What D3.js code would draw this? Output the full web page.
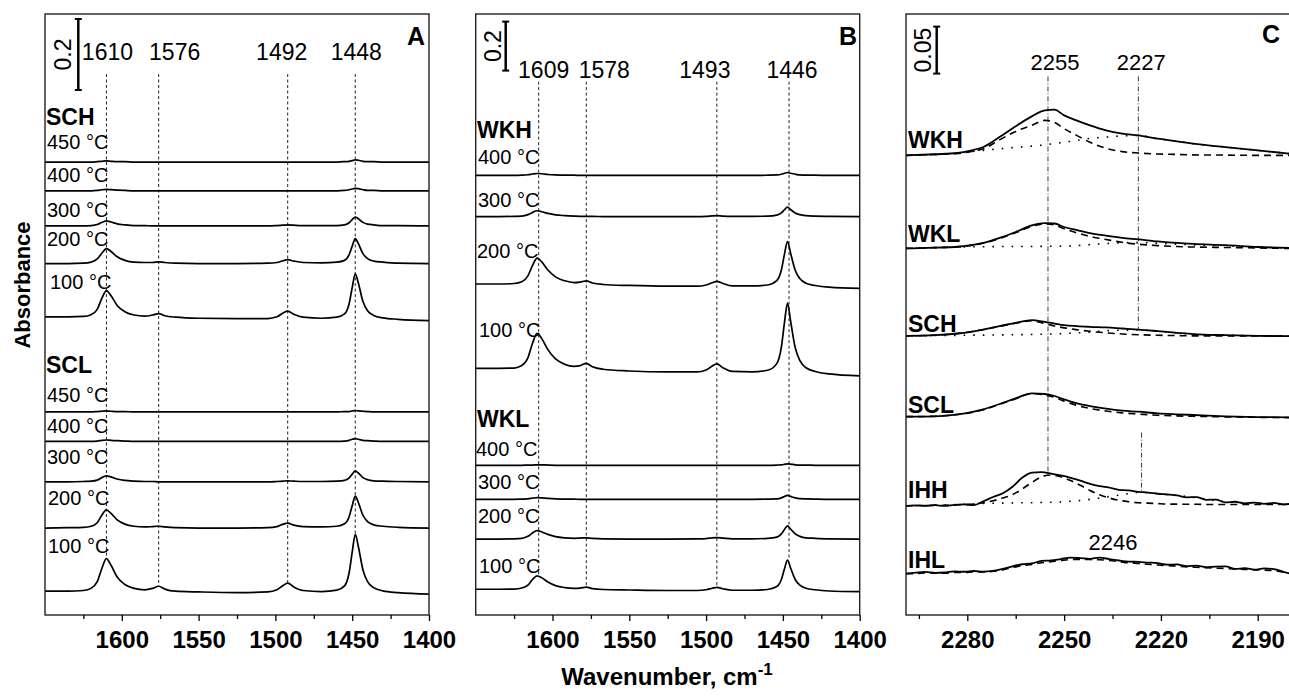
<!DOCTYPE html>
<html>
<head>
<meta charset="utf-8">
<title>IR spectra of adsorbed species</title>
<script src="https://cdn.jsdelivr.net/npm/d3@7/dist/d3.min.js"></script>
<style>
  body { margin: 0; background: #fff; }
  svg text { font-family: "Liberation Sans", Arial, Helvetica, sans-serif; fill: #000; }
</style>
</head>
<body>
<svg id="chart" width="1289" height="697"></svg>
<script>
'use strict';

// ---------- data: panel A (SCH / SCL), absorbance above own baseline ----------
var gridA = [1650,1635,1625,1620,1616,1613,1610,1607,1603,1598,
             1592,1585,1580,1576,1572,1565,1550,1525,1505,1499,
             1495,1492,1488,1482,1470,1460,1455,1452,1450,1448,
             1446,1443,1440,1436,1430,1420,1400];
var sch450 = [0,0,0,0,0.001,0.002,0.003,0.002,0.001,0.001, 0,0,0,0,0,0,0,0,0,0, 0,0,0,0,0,0,0.001,0.002,0.004,0.006, 0.005,0.002,0.001,0.001,0,0,0];
var sch400 = [0,0,0,0,0.001,0.003,0.004,0.003,0.002,0.001, 0,0,0,0,0,0,0,0,0,0, 0,0,0,0,0,0,0.001,0.003,0.005,0.007, 0.006,0.003,0.001,0.001,0,0,0];
var sch300 = [0,0,0,0.001,0.004,0.010,0.014,0.011,0.006,0.003, 0.001,0.001,0,0,0,0,0,0,0,0.001, 0.002,0.003,0.002,0.001,0.001,0.001,0.003,0.009,0.018,0.025, 0.020,0.010,0.005,0.003,0.001,0.001,0];
var sch200 = [0,0,0.001,0.004,0.013,0.029,0.042,0.034,0.019,0.009, 0.004,0.003,0.003,0.005,0.003,0.001,0,0,0.001,0.003, 0.008,0.011,0.007,0.003,0.002,0.004,0.009,0.025,0.049,0.070, 0.056,0.028,0.014,0.007,0.004,0.001,0];
var sch100 = [0.011,0.011,0.012,0.017,0.032,0.063,0.085,0.070,0.043,0.025, 0.016,0.013,0.016,0.020,0.014,0.010,0.007,0.006,0.006,0.011, 0.022,0.027,0.018,0.010,0.007,0.010,0.019,0.048,0.093,0.132, 0.106,0.054,0.028,0.015,0.008,0.004,0];
var scl450 = [0,0,0,0,0.001,0.002,0.003,0.002,0.001,0.001, 0,0,0,0,0,0,0,0,0,0, 0,0,0,0,0,0,0.001,0.001,0.003,0.004, 0.003,0.002,0.001,0,0,0,0];
var scl400 = [0,0,0,0,0.001,0.003,0.004,0.003,0.002,0.001, 0,0,0,0,0,0,0,0,0,0, 0,0,0,0,0,0,0.001,0.003,0.006,0.008, 0.006,0.003,0.002,0.001,0,0,0];
var scl300 = [0,0,0.001,0.002,0.005,0.012,0.017,0.014,0.008,0.004, 0.002,0.001,0.001,0,0,0,0,0,0,0.001, 0.002,0.003,0.002,0.001,0.001,0.002,0.004,0.011,0.022,0.031, 0.025,0.012,0.006,0.003,0.002,0.001,0];
var scl200 = [0,0.001,0.002,0.005,0.015,0.036,0.051,0.041,0.023,0.011, 0.005,0.003,0.004,0.005,0.003,0.001,0,0,0.001,0.004, 0.011,0.014,0.008,0.004,0.003,0.005,0.012,0.032,0.063,0.090, 0.072,0.036,0.018,0.009,0.005,0.002,0];
var scl100 = [0.008,0.008,0.010,0.016,0.035,0.072,0.100,0.081,0.048,0.027, 0.016,0.012,0.016,0.022,0.014,0.008,0.006,0.004,0.006,0.012, 0.024,0.031,0.020,0.010,0.007,0.011,0.023,0.060,0.118,0.168, 0.134,0.068,0.035,0.018,0.009,0.004,0];
var offsetsA = [1.276,1.195,1.096,0.990,0.829, 0.572,0.489,0.375,0.245,0.059];
var samplesA = ['SCH','SCL'];
var tempsA = ['450 °C','400 °C','300 °C','200 °C','100 °C','450 °C','400 °C','300 °C','200 °C','100 °C'];
var peaksA = [1610,1576,1492,1448];

// ---------- data: panel B (WKH / WKL) ----------
var gridB = [1650,1635,1625,1620,1616,1613,1610,1607,1603,1598,
             1592,1586,1582,1578,1574,1567,1550,1525,1506,1500,
             1496,1493,1489,1483,1470,1460,1454,1451,1449,1447,
             1445,1442,1439,1435,1429,1420,1400];
var wkh400 = [0,0,0,0.001,0.003,0.006,0.008,0.007,0.004,0.002, 0.001,0.001,0,0,0,0,0,0,0,0, 0,0,0,0,0,0.001,0.002,0.005,0.009,0.012, 0.009,0.005,0.002,0.001,0.001,0,0];
var wkh300 = [0,0,0.001,0.002,0.008,0.017,0.024,0.020,0.013,0.007, 0.004,0.002,0.001,0.001,0.001,0,0,0,0,0.001, 0.003,0.004,0.002,0.001,0.001,0.002,0.006,0.015,0.028,0.039, 0.029,0.015,0.008,0.004,0.002,0.001,0];
var wkh200 = [0.018,0.018,0.020,0.027,0.051,0.094,0.124,0.108,0.075,0.047, 0.031,0.024,0.026,0.031,0.022,0.016,0.012,0.009,0.009,0.014, 0.023,0.029,0.020,0.010,0.010,0.014,0.032,0.075,0.139,0.191, 0.144,0.074,0.040,0.021,0.012,0.005,0];
var wkh100 = [0.031,0.031,0.032,0.042,0.074,0.133,0.174,0.152,0.107,0.069, 0.047,0.039,0.042,0.051,0.037,0.027,0.020,0.016,0.016,0.024, 0.040,0.049,0.033,0.018,0.016,0.023,0.050,0.117,0.216,0.297, 0.224,0.116,0.063,0.033,0.018,0.008,0];
var wkl400 = [0,0,0,0,0.001,0.001,0.002,0.002,0.001,0, 0,0,0,0,0,0,0,0,0,0, 0,0,0,0,0,0,0.001,0.002,0.004,0.006, 0.005,0.002,0.001,0.001,0,0,0];
var wkl300 = [0,0,0,0.001,0.002,0.005,0.007,0.006,0.004,0.002, 0.001,0.001,0,0,0,0,0,0,0,0, 0,0,0,0,0,0.001,0.002,0.006,0.012,0.016, 0.012,0.006,0.003,0.002,0.001,0,0];
var wkl200 = [0,0,0.001,0.003,0.011,0.025,0.034,0.029,0.019,0.010, 0.005,0.003,0.004,0.005,0.003,0.001,0,0,0.001,0.002, 0.005,0.006,0.004,0.001,0.001,0.003,0.008,0.021,0.039,0.054, 0.041,0.021,0.011,0.005,0.003,0.001,0];
var wkl100 = [0.010,0.010,0.011,0.015,0.027,0.050,0.065,0.057,0.040,0.025, 0.017,0.014,0.015,0.019,0.013,0.009,0.007,0.005,0.005,0.008, 0.014,0.018,0.012,0.006,0.006,0.009,0.021,0.050,0.093,0.129, 0.097,0.050,0.027,0.014,0.008,0.003,0];
var offsetsB = [1.794,1.626,1.333,0.976, 0.611,0.472,0.310,0.095];
var samplesB = ['WKH','WKL'];
var tempsB = ['400 °C','300 °C','200 °C','100 °C','400 °C','300 °C','200 °C','100 °C'];
var peaksB = [1609,1578,1493,1446];

// ---------- data: panel C (nitrile region), measured / main band / side band ----------
var gridC = [2299,2290,2283,2279,2275,2270,2265,2260,2256,2253,
             2250,2246,2242,2237,2232,2227,2221,2215,2210,2200,
             2190,2180];
var gridIH = [2299,2296,2293,2290,2287,2284,2281,2278,2275,2272,
              2269,2266,2263,2260,2257,2254,2251,2248,2245,2242,
              2239,2236,2233,2230,2227,2224,2221,2218,2215,2212,
              2209,2206,2203,2200,2197,2194,2191,2188,2185,2182,
              2180];
var wkhMeas = [0,0.0012,0.0025,0.005,0.0089,0.0195,0.031,0.0415,0.0479,0.0486, 0.0426,0.037,0.0319,0.0266,0.0232,0.0212,0.0177,0.015,0.0124,0.0088, 0.0053,0.0018];
var wkhMain = [0,0.001,0.002,0.004,0.007,0.0165,0.0255,0.032,0.0372,0.035, 0.0284,0.021,0.014,0.0075,0.004,0.0025,0.0015,0.001,0.0005,0.0003, 0,0];
var wkhSide = [0,0.001,0.0025,0.004,0.0053,0.007,0.0085,0.0098,0.0112,0.0125, 0.014,0.016,0.018,0.0195,0.0207,0.0212,0.0177,0.015,0.0124,0.0088, 0.0053,0.0018];
var wklMeas = [0,0.0008,0.0018,0.0035,0.006,0.0112,0.0175,0.0245,0.027,0.0265, 0.0228,0.0195,0.0162,0.0135,0.0112,0.0096,0.0075,0.0058,0.0048,0.0035, 0.0015,0.0005];
var wklMain = [0,0.0008,0.0016,0.003,0.0055,0.0105,0.0168,0.0235,0.026,0.025, 0.021,0.0165,0.0128,0.0095,0.0065,0.0045,0.003,0.002,0.0015,0.001, 0.0005,0];
var wklSide = [0,0.0008,0.0015,0.0017,0.0018,0.002,0.002,0.0021,0.0022,0.0023, 0.0025,0.003,0.004,0.0052,0.006,0.0062,0.0055,0.0045,0.0038,0.003, 0.0015,0.0005];
var schMeas = [0,0.0007,0.0025,0.0043,0.0067,0.0103,0.0138,0.0167,0.0149,0.0131, 0.0113,0.0103,0.0096,0.0089,0.0078,0.0067,0.005,0.0032,0.0018,0.0007, 0,-0.0004];
var schMain = [0,0.0007,0.0025,0.0043,0.0067,0.010,0.0135,0.016,0.013,0.0105, 0.0085,0.0065,0.0048,0.0032,0.002,0.0012,0.0006,0.0003,0,0, 0,-0.0004];
var schSide = [0,0.0003,0.0005,0.0007,0.0008,0.001,0.0012,0.0015,0.0018,0.002, 0.0025,0.0032,0.004,0.0055,0.006,0.0062,0.005,0.0032,0.0018,0.0007, 0,-0.0004];
var sclMeas = [0,0.0004,0.0025,0.0046,0.0078,0.0135,0.0195,0.0248,0.0241,0.022, 0.0184,0.0142,0.0113,0.0085,0.0064,0.0053,0.0035,0.0025,0.0018,0.0004, -0.0004,-0.0007];
var sclMain = [0,0.0004,0.0023,0.0043,0.0075,0.013,0.019,0.0245,0.023,0.0205, 0.0165,0.012,0.0088,0.006,0.004,0.0028,0.0015,0.0008,0.0004,-0.0002, -0.0007,-0.001];
var ihhMeas = [0,0.0006,0.0002,0.0008,0,0.0012,0.0016,0.001,0.005,0.0095, 0.0135,0.0205,0.030,0.0355,0.036,0.0345,0.0325,0.030,0.027,0.0235, 0.021,0.0195,0.0172,0.0165,0.015,0.0143,0.013,0.0122,0.0112,0.0092, 0.0095,0.0065,0.0068,0.0038,0.0045,0.0028,0.0036,0.0022,0.0032,0.0016, 0.0022];
var ihhMain = [0,0.0005,0.0005,0.0008,0.0008,0.0012,0.0015,0.002,0.0035,0.0055, 0.0085,0.012,0.018,0.025,0.031,0.033,0.031,0.027,0.022,0.0165, 0.012,0.0085,0.006,0.0045,0.0035,0.003,0.0025,0.002,0.002,0.0018, 0.0018,0.0016,0.0016,0.0015,0.0015,0.0015,0.0015,0.0015,0.0015,0.0015, 0.0015];
var ihhSide = [0,0.0008,0.0015,0.002,0.0028,0.003,0.0033,0.0035,0.0038,0.004, 0.0045,0.0055,0.007,0.0095,0.012,0.0145,0.013,0.0112,0.0092,0.0045, 0.003,0.0022];
var ihlMeas = [0,0.001,0.0018,0.0008,0.0012,0.0025,0.002,0.0028,0.0022,0.003, 0.005,0.0078,0.010,0.0108,0.0135,0.014,0.0155,0.017,0.0165,0.0158, 0.017,0.0155,0.014,0.0128,0.0125,0.0118,0.0112,0.0095,0.0098,0.008, 0.0085,0.0068,0.0075,0.0078,0.005,0.0058,0.0042,0.0055,0.0048,0.002, 0];
var ihlMain = [0,0,0.0008,0.0005,0.0005,0.0012,0.0012,0.0018,0.0018,0.0025, 0.004,0.0065,0.0085,0.0098,0.0115,0.0128,0.014,0.015,0.0152,0.015, 0.0148,0.014,0.0128,0.0115,0.0108,0.010,0.0092,0.0085,0.008,0.0072, 0.0068,0.0062,0.0058,0.0055,0.0048,0.0045,0.004,0.0038,0.0032,0.0015, 0.0005];
var samplesC = ['WKH','WKL','SCH','SCL','IHH','IHL'];
var offsetsC = [0.489,0.390,0.297,0.211,0.116,0.044];
var peaksC = [2255,2227];

// ---------- layout ----------
var svg = d3.select('#chart');
var plotTop = 14, plotBottom = 615;
var black = '#000';
var fontFamily = '"Liberation Sans", Arial, Helvetica, sans-serif';

function nearest(grid, vals, wn) {
  var i = d3.minIndex(grid, function(g){ return Math.abs(g - wn); });
  return vals[i];
}

function stackPath(g, x, y, grid, vals, off) {
  var line = d3.line()
    .x(function(d, i){ return x(grid[i]); })
    .y(function(d){ return y(d + off); })
    .curve(d3.curveMonotoneX);
  return g.append('path').datum(vals)
    .attr('d', line)
    .attr('fill', 'none')
    .attr('stroke', black)
    .attr('stroke-width', 1.7)
    .attr('stroke-linejoin', 'round');
}

function frame(g, x) {
  var x0 = x.range()[0], x1 = x.range()[1];
  g.append('rect')
    .attr('x', x0).attr('y', plotTop)
    .attr('width', x1 - x0).attr('height', plotBottom - plotTop)
    .attr('fill', 'none').attr('stroke', '#222').attr('stroke-width', 1.4);
}

function axis(g, x, major, minor) {
  var mi = g.append('g')
    .attr('transform', 'translate(0,' + plotBottom + ')')
    .call(d3.axisBottom(x).tickValues(minor).tickSize(4).tickFormat(''));
  mi.select('.domain').remove();
  mi.selectAll('line').attr('stroke-width', 1.3);

  var ax = g.append('g')
    .attr('transform', 'translate(0,' + plotBottom + ')')
    .call(d3.axisBottom(x).tickValues(major).tickSize(6).tickPadding(10).tickFormat(d3.format('d')));
  // axis() writes its own font attrs, so override afterwards
  ax.attr('font-size', 24).attr('font-weight', 'bold').attr('font-family', fontFamily);
  ax.select('.domain').remove();
  ax.selectAll('line').attr('stroke-width', 1.3);
}

function scaleBar(g, xpos, y, v0, v1, label, labelX) {
  g.append('line').attr('x1', xpos).attr('x2', xpos)
    .attr('y1', y(v0)).attr('y2', y(v1))
    .attr('stroke', black).attr('stroke-width', 2.5);
  [v0, v1].forEach(function(v){
    g.append('line').attr('x1', xpos - 3.5).attr('x2', xpos + 3.5)
      .attr('y1', y(v)).attr('y2', y(v))
      .attr('stroke', black).attr('stroke-width', 2);
  });
  g.append('text')
    .attr('transform', 'translate(' + labelX + ',' + ((y(v0) + y(v1)) / 2) + ') rotate(-90)')
    .attr('text-anchor', 'middle').attr('dy', '0.36em')
    .attr('font-size', 23)
    .text(label);
}

function text(g, x, y, str, size, bold, anchor) {
  return g.append('text').attr('x', x).attr('y', y)
    .attr('font-size', size)
    .attr('font-weight', bold ? 'bold' : 'normal')
    .attr('text-anchor', anchor || 'start')
    .text(str);
}

// ---------- panel A ----------
var xA = d3.scaleLinear().domain([1650, 1400]).range([45, 429]);
var yA = d3.scaleLinear().domain([0, 1.693]).range([plotBottom, plotTop]);
var gA = svg.append('g');
var tracesA = [sch450, sch400, sch300, sch200, sch100, scl450, scl400, scl300, scl200, scl100];

peaksA.forEach(function(p){
  gA.append('line')
    .attr('x1', xA(p)).attr('x2', xA(p))
    .attr('y1', yA(1.524))
    .attr('y2', yA(offsetsA[9] + nearest(gridA, scl100, p)))
    .attr('stroke', '#222').attr('stroke-width', 1).attr('stroke-dasharray', '3,2.5');
});
tracesA.forEach(function(vals, i){ stackPath(gA, xA, yA, gridA, vals, offsetsA[i]); });
frame(gA, xA);
axis(gA, xA, [1600, 1550, 1500, 1450, 1400], [1625, 1575, 1525, 1475, 1425]);
scaleBar(gA, 78.3, yA, 1.479, 1.679, '0.2', 63);

var peakShiftA = [1, 16, -6, 1];
peaksA.forEach(function(p, i){ text(gA, xA(p) + peakShiftA[i], 60, String(p), 23, false, 'middle'); });
text(gA, 425, 45, 'A', 25, true, 'end');

var sampleYA = [125, 372.7];
samplesA.forEach(function(s, i){ text(gA, 46, sampleYA[i], s, 23, true); });
var tempXA = [47, 47, 47, 47, 50, 47, 47, 47, 48, 48];
var tempYA = [149, 181.7, 216.7, 246, 289.3, 402.3, 433.3, 464, 505, 553.3];
tempsA.forEach(function(t, i){ text(gA, tempXA[i], tempYA[i], t, 20, false); });

// ---------- panel B ----------
var xB = d3.scaleLinear().domain([1650, 1400]).range([475.7, 859.7]);
var yB = d3.scaleLinear().domain([0, 2.453]).range([plotBottom, plotTop]);
var gB = svg.append('g');
var tracesB = [wkh400, wkh300, wkh200, wkh100, wkl400, wkl300, wkl200, wkl100];

peaksB.forEach(function(p){
  gB.append('line')
    .attr('x1', xB(p)).attr('x2', xB(p))
    .attr('y1', yB(2.177))
    .attr('y2', yB(offsetsB[7] + nearest(gridB, wkl100, p)))
    .attr('stroke', '#222').attr('stroke-width', 1).attr('stroke-dasharray', '3,2.5');
});
tracesB.forEach(function(vals, i){ stackPath(gB, xB, yB, gridB, vals, offsetsB[i]); });
frame(gB, xB);
axis(gB, xB, [1600, 1550, 1500, 1450, 1400], [1625, 1575, 1525, 1475, 1425]);
scaleBar(gB, 505.7, yB, 2.222, 2.422, '0.2', 493);

var peakShiftB = [5, 18, -12, 3];
peaksB.forEach(function(p, i){ text(gB, xB(p) + peakShiftB[i], 78, String(p), 23, false, 'middle'); });
text(gB, 857, 45, 'B', 25, true, 'end');

var sampleYB = [138.3, 426.7];
samplesB.forEach(function(s, i){ text(gB, 477, sampleYB[i], s, 23, true); });
var tempXB = [478, 478, 477, 479, 476, 478, 478, 479];
var tempYB = [164, 206.7, 258.3, 337.3, 456, 489, 523.3, 573.3];
tempsB.forEach(function(t, i){ text(gB, tempXB[i], tempYB[i], t, 20, false); });

// ---------- panel C ----------
var xC = d3.scaleLinear().domain([2299, 2180]).range([906, 1290]);
var yC = d3.scaleLinear().domain([0, 0.6394]).range([plotBottom, plotTop]);
var gC = svg.append('g');

function dashDot(wn, vTop, vBottom) {
  gC.append('line')
    .attr('x1', xC(wn)).attr('x2', xC(wn))
    .attr('y1', yC(vTop)).attr('y2', yC(vBottom))
    .attr('stroke', '#222').attr('stroke-width', 0.9)
    .attr('stroke-dasharray', '5,2,1,2');
}
dashDot(peaksC[0], 0.573, offsetsC[4] + nearest(gridIH, ihhMeas, peaksC[0]));
dashDot(peaksC[1], 0.573, offsetsC[2] + nearest(gridC, schMeas, peaksC[1]));
dashDot(2226, 0.194, offsetsC[4] + nearest(gridIH, ihhMeas, 2226));

var setsC = [
  [gridC, wkhMeas, wkhMain, wkhSide],
  [gridC, wklMeas, wklMain, wklSide],
  [gridC, schMeas, schMain, schSide],
  [gridC, sclMeas, sclMain, null],
  [gridIH, ihhMeas, ihhMain, ihhSide],
  [gridIH, ihlMeas, ihlMain, null]
];
setsC.forEach(function(s, i){
  var off = offsetsC[i];
  if (s[3]) {
    stackPath(gC, xC, yC, gridC, s[3], off)
      .attr('stroke-width', 1.6).attr('stroke-dasharray', '1.6,8');
  }
  stackPath(gC, xC, yC, s[0], s[2], off)
    .attr('stroke-width', 1.6).attr('stroke-dasharray', '7,5');
  stackPath(gC, xC, yC, s[0], s[1], off).attr('stroke-width', 1.8);
});
frame(gC, xC);
axis(gC, xC, [2280, 2250, 2220, 2190], [2295, 2265, 2235, 2205]);
scaleBar(gC, 936.7, yC, 0.576, 0.626, '0.05', 923);

var peakShiftC = [7, 3];
peaksC.forEach(function(p, i){ text(gC, xC(p) + peakShiftC[i], 70, String(p), 22, false, 'middle'); });
text(gC, xC(2246) + 36, 550, '2246', 22, false, 'middle');
text(gC, 1280, 43, 'C', 25, true, 'end');

var sampleYC = [148.3, 241.7, 331.7, 413.3, 498.3, 568.3];
samplesC.forEach(function(s, i){ text(gC, 908, sampleYC[i], s, 23, true); });

// ---------- shared titles ----------
var xt = svg.append('text')
  .attr('x', 667).attr('y', 685)
  .attr('text-anchor', 'middle')
  .attr('font-size', 24).attr('font-weight', 'bold');
xt.append('tspan').text('Wavenumber, cm');
xt.append('tspan').attr('dy', -10).attr('font-size', 17).text('-1');

svg.append('text')
  .attr('transform', 'translate(30,285) rotate(-90)')
  .attr('text-anchor', 'middle')
  .attr('font-size', 22).attr('font-weight', 'bold')
  .text('Absorbance');
</script>
</body>
</html>
